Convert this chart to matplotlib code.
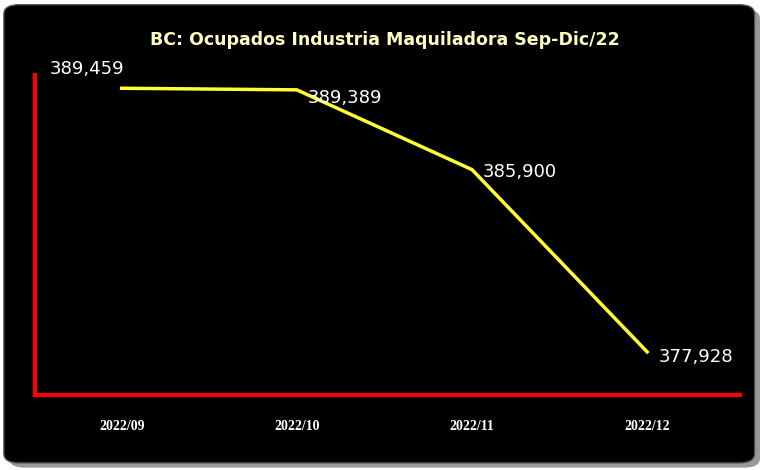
import matplotlib.pyplot as plt
from matplotlib.patches import FancyBboxPatch

months = ["2022/09", "2022/10", "2022/11", "2022/12"]
ocupados = [389459, 389389, 385900, 377928]

fig = plt.figure(figsize=(7.7, 4.7), dpi=100, facecolor="white")

# black rounded panel with a soft grey shadow
shadow = FancyBboxPatch((0.012, 0.005), 0.975, 0.975, boxstyle="round,pad=0,rounding_size=0.02",
                        transform=fig.transFigure, facecolor="#999999", edgecolor="none", zorder=0)
panel = FancyBboxPatch((0.005, 0.015), 0.975, 0.975, boxstyle="round,pad=0,rounding_size=0.02",
                       transform=fig.transFigure, facecolor="black", edgecolor="#555555", zorder=1)
fig.patches.extend([shadow, panel])

ax = fig.add_axes([0.045, 0.16, 0.916, 0.68])
ax.set_zorder(5)
ax.set_facecolor("none")
x = list(range(len(months)))
ax.plot(x, ocupados, color="#FFFF33", linewidth=2.5)

ax.set_xlim(-0.497, 3.53)
ax.set_ylim(376050, 390030)

for s in ["top", "right"]:
    ax.spines[s].set_visible(False)
for s in ["left", "bottom"]:
    ax.spines[s].set_color("red")
    ax.spines[s].set_linewidth(3)

ax.set_yticks([])
ax.set_xticks(x)
ax.set_xticklabels(months, color="white", fontweight="bold", fontsize=10, family="Liberation Serif")
ax.tick_params(axis="x", length=0, pad=18)

offsets = [(-52, 14), (8, -6), (8, -2), (8, -4)]
for xi, v, (dx, dy) in zip(x, ocupados, offsets):
    ax.annotate(f"{v:,}", (xi, v), xytext=(dx, dy), textcoords="offset points",
                color="white", fontsize=13, ha="left", va="center")

fig.text(0.5, 0.915, "BC: Ocupados Industria Maquiladora Sep-Dic/22", ha="center", va="center",
         color="#FFFFC0", fontsize=12.5, fontweight="bold", zorder=6)

fig.savefig("out.png", dpi=100)
